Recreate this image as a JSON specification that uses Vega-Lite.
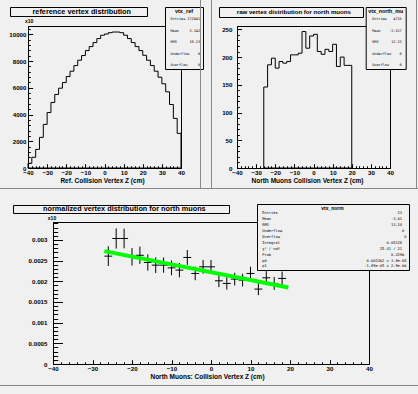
{
  "$schema": "https://vega.github.io/schema/vega-lite/v6.json",
  "autosize": {"type": "none"},
  "padding": {"left": 28, "top": 26, "right": 390, "bottom": 368},
  "background": "#f0f0f0",
  "align": "none",
  "spacing": -2,
  "resolve": {
    "scale": {"fill": "independent", "shape": "independent", "stroke": "independent"},
    "legend": {"fill": "independent", "shape": "independent", "stroke": "independent"}
  },
  "config": {
    "view": {"stroke": "black", "strokeWidth": 1},
    "font": "Liberation Sans",
    "axis": {
      "domainColor": "black", "domainWidth": 1, "tickColor": "black", "tickWidth": 1,
      "labelColor": "black", "titleColor": "black",
      "labelFont": "Liberation Sans", "titleFont": "Liberation Sans",
      "labelFontWeight": "bold", "titleFontWeight": "bold",
      "labelFontSize": 6.2, "titleFontSize": 6.5,
      "grid": false, "labelFlush": false, "labelOverlap": false
    },
    "legend": {
      "symbolOpacity": 0, "symbolSize": 0, "symbolStrokeWidth": 0, "labelOffset": 0,
      "strokeColor": "black", "fillColor": "#f0f0f0", "labelColor": "black", "titleColor": "black",
      "labelLimit": 400, "titleLimit": 400
    }
  },
  "vconcat": [
    {
      "spacing": 56,
      "bounds": "flush",
      "resolve": {
        "scale": {"fill": "independent", "shape": "independent", "stroke": "independent"},
        "legend": {"fill": "independent", "shape": "independent", "stroke": "independent"}
      },
      "hconcat": [
        {
          "width": 153, "height": 142,
          "resolve": {"axis": {"x": "independent", "y": "independent"}},
          "layer": [
            {
              "data": {"values": [
                {"lo":-40,"hi":-38,"n":350},{"lo":-38,"hi":-36,"n":800},{"lo":-36,"hi":-34,"n":1390},{"lo":-34,"hi":-32,"n":2290},
                {"lo":-32,"hi":-30,"n":3260},{"lo":-30,"hi":-28,"n":4150},{"lo":-28,"hi":-26,"n":4900},{"lo":-26,"hi":-24,"n":5500},
                {"lo":-24,"hi":-22,"n":5970},{"lo":-22,"hi":-20,"n":6390},{"lo":-20,"hi":-18,"n":6840},{"lo":-18,"hi":-16,"n":7240},
                {"lo":-16,"hi":-14,"n":7660},{"lo":-14,"hi":-12,"n":8060},{"lo":-12,"hi":-10,"n":8410},{"lo":-10,"hi":-8,"n":8780},
                {"lo":-8,"hi":-6,"n":9080},{"lo":-6,"hi":-4,"n":9380},{"lo":-4,"hi":-2,"n":9680},{"lo":-2,"hi":0,"n":9930},
                {"lo":0,"hi":2,"n":10020},{"lo":2,"hi":4,"n":10120},{"lo":4,"hi":6,"n":10170},{"lo":6,"hi":8,"n":10170},
                {"lo":8,"hi":10,"n":10120},{"lo":10,"hi":12,"n":9930},{"lo":12,"hi":14,"n":9680},{"lo":14,"hi":16,"n":9380},
                {"lo":16,"hi":18,"n":9080},{"lo":18,"hi":20,"n":8780},{"lo":20,"hi":22,"n":8430},{"lo":22,"hi":24,"n":8060},
                {"lo":24,"hi":26,"n":7660},{"lo":26,"hi":28,"n":7240},{"lo":28,"hi":30,"n":6790},{"lo":30,"hi":32,"n":6300},
                {"lo":32,"hi":34,"n":5700},{"lo":34,"hi":36,"n":4750},{"lo":36,"hi":38,"n":3710},{"lo":38,"hi":40,"n":2590}
              ]},
              "transform": [{"fold": ["lo", "hi"], "as": ["side", "edge"]}],
              "mark": {"type": "area", "fillOpacity": 0, "stroke": "black", "strokeWidth": 1},
              "encoding": {
                "x": {"field": "edge", "type": "quantitative",
                  "scale": {"domain": [-40, 40], "nice": false, "zero": false},
                  "axis": {"orient": "bottom", "values": [-40,-30,-20,-10,0,10,20,30,40], "format": "d",
                    "tickSize": -4.3, "labelPadding": 5.8,
                    "title": "Ref. Collision Vertex Z (cm)", "titleX": 74, "titleY": 9, "titleBaseline": "top"}},
                "y": {"field": "n", "type": "quantitative", "stack": null,
                  "scale": {"domain": [0, 10620], "nice": false},
                  "axis": {"orient": "left", "values": [0,2000,4000,6000,8000,10000], "format": "d",
                    "tickSize": -4.6, "labelPadding": 6.6,
                    "title": "x10", "titleAngle": 0, "titleX": 0.7, "titleY": -3, "titleAlign": "center",
                    "titleBaseline": "bottom", "titleFontSize": 5}}
              }
            },
            {
              "data": {"values": [{}]},
              "mark": {"type": "point", "opacity": 0},
              "encoding": {
                "x": {"datum": 0, "type": "quantitative",
                  "scale": {"domain": [-40, 40], "nice": false, "zero": false},
                  "axis": {"orient": "bottom", "values": [-38,-36,-34,-32,-28,-26,-24,-22,-18,-16,-14,-12,-8,-6,-4,-2,2,4,6,8,12,14,16,18,22,24,26,28,32,34,36,38],
                    "tickSize": -2.2, "labels": false, "domain": false, "title": null}},
                "y": {"datum": 0, "type": "quantitative",
                  "scale": {"domain": [0, 10620], "nice": false},
                  "axis": {"orient": "left", "values": [400,800,1200,1600,2400,2800,3200,3600,4400,4800,5200,5600,6400,6800,7200,7600,8400,8800,9200,9600,10400],
                    "tickSize": -2.3, "labels": false, "domain": false, "title": null}}
              }
            },
            {
              "data": {"values": [
                {"line": "Entries\u00a0272041"},
                {"line": "Mean\u00a0\u00a0\u00a0\u00a0\u00a03.342"},
                {"line": "RMS\u00a0\u00a0\u00a0\u00a0\u00a0\u00a018.23"},
                {"line": "Underflow\u00a0\u00a0\u00a0\u00a00"},
                {"line": "Overflow\u00a0\u00a0\u00a0\u00a0\u00a00"}
              ]},
              "mark": {"type": "circle", "opacity": 0},
              "encoding": {
                "fill": {"field": "line", "type": "nominal", "sort": null,
                  "legend": {"orient": "none", "legendX": 137, "legendY": -19, "title": "vtx_ref",
                    "titleFont": "Liberation Sans", "titleFontSize": 5.5, "titleFontWeight": "bold",
                    "titleAnchor": "middle", "titlePadding": 3,
                    "labelFont": "DejaVu Sans Mono", "labelFontSize": 3.5, "rowPadding": 6.5, "padding": 2}}
              }
            },
            {
              "data": {"values": [{"pad": "\u200b\u00a0\u00a0\u00a0\u00a0\u00a0\u00a0\u00a0reference vertex distribution\u00a0\u00a0\u00a0\u00a0\u00a0\u00a0\u00a0\u200b"}]},
              "mark": {"type": "point", "opacity": 0},
              "encoding": {
                "shape": {"field": "pad", "type": "nominal",
                  "legend": {"orient": "none", "legendX": -18, "legendY": -19, "title": null,
                    "labelFont": "Liberation Sans", "labelFontSize": 7.3, "labelFontWeight": "bold", "padding": 1}}
              }
            },
            {
              "data": {"values": [{"b": "0000"}]},
              "mark": {"type": "circle", "opacity": 0},
              "encoding": {
                "stroke": {"field": "b", "type": "nominal",
                  "legend": {"orient": "none", "legendX": -33, "legendY": -31, "title": null,
                    "labelColor": "transparent", "strokeColor": "#888888", "fillColor": "transparent",
                    "padding": 91.5, "labelFontSize": 10, "labelFont": "Liberation Sans"}}
              }
            }
          ]
        },
        {
          "width": 153, "height": 142,
          "resolve": {"axis": {"x": "independent", "y": "independent"}},
          "layer": [
            {
              "data": {"values": [
                {"lo":-26,"hi":-24,"n":146},{"lo":-24,"hi":-22,"n":186},{"lo":-22,"hi":-20,"n":198},{"lo":-20,"hi":-18,"n":180},
                {"lo":-18,"hi":-16,"n":192},{"lo":-16,"hi":-14,"n":189},{"lo":-14,"hi":-12,"n":192},{"lo":-12,"hi":-10,"n":204},
                {"lo":-10,"hi":-8,"n":204},{"lo":-8,"hi":-6,"n":207},{"lo":-6,"hi":-4,"n":246},{"lo":-4,"hi":-2,"n":216},
                {"lo":-2,"hi":0,"n":238},{"lo":0,"hi":2,"n":241},{"lo":2,"hi":4,"n":210},{"lo":4,"hi":6,"n":205},
                {"lo":6,"hi":8,"n":214},{"lo":8,"hi":10,"n":210},{"lo":10,"hi":12,"n":223},{"lo":12,"hi":14,"n":183},
                {"lo":14,"hi":16,"n":200},{"lo":16,"hi":18,"n":185},{"lo":18,"hi":20,"n":185}
              ]},
              "transform": [{"fold": ["lo", "hi"], "as": ["side", "edge"]}],
              "mark": {"type": "area", "fillOpacity": 0, "stroke": "black", "strokeWidth": 1},
              "encoding": {
                "x": {"field": "edge", "type": "quantitative",
                  "scale": {"domain": [-40, 40], "nice": false, "zero": false},
                  "axis": {"orient": "bottom", "values": [-40,-30,-20,-10,0,10,20,30,40], "format": "d",
                    "tickSize": -4.3, "labelPadding": 5.8,
                    "title": "North Muons Collision Vertex Z (cm)", "titleX": 70, "titleY": 9, "titleBaseline": "top"}},
                "y": {"field": "n", "type": "quantitative", "stack": null,
                  "scale": {"domain": [0, 256], "nice": false},
                  "axis": {"orient": "left", "values": [0,50,100,150,200,250], "format": "d",
                    "tickSize": -4.6, "labelPadding": 9.6, "title": null}}
              }
            },
            {
              "data": {"values": [{}]},
              "mark": {"type": "point", "opacity": 0},
              "encoding": {
                "x": {"datum": 0, "type": "quantitative",
                  "scale": {"domain": [-40, 40], "nice": false, "zero": false},
                  "axis": {"orient": "bottom", "values": [-38,-36,-34,-32,-28,-26,-24,-22,-18,-16,-14,-12,-8,-6,-4,-2,2,4,6,8,12,14,16,18,22,24,26,28,32,34,36,38],
                    "tickSize": -2.2, "labels": false, "domain": false, "title": null}},
                "y": {"datum": 0, "type": "quantitative",
                  "scale": {"domain": [0, 256], "nice": false},
                  "axis": {"orient": "left", "values": [10,20,30,40,60,70,80,90,110,120,130,140,160,170,180,190,210,220,230,240],
                    "tickSize": -2.3, "labels": false, "domain": false, "title": null}}
              }
            },
            {
              "data": {"values": [
                {"line": "Entries\u00a0\u00a0\u00a04715"},
                {"line": "Mean\u00a0\u00a0\u00a0\u00a0-2.617"},
                {"line": "RMS\u00a0\u00a0\u00a0\u00a0\u00a0\u00a013.23"},
                {"line": "Underflow\u00a0\u00a0\u00a0\u00a00"},
                {"line": "Overflow\u00a0\u00a0\u00a0\u00a0\u00a00"}
              ]},
              "mark": {"type": "circle", "opacity": 0},
              "encoding": {
                "fill": {"field": "line", "type": "nominal", "sort": null,
                  "legend": {"orient": "none", "legendX": 128.7, "legendY": -19, "title": "vtx_north_mu",
                    "titleFont": "Liberation Sans", "titleFontSize": 5.3, "titleFontWeight": "bold",
                    "titleAnchor": "middle", "titlePadding": 3,
                    "labelFont": "DejaVu Sans Mono", "labelFontSize": 3.5, "rowPadding": 6.5, "padding": 2}}
              }
            },
            {
              "data": {"values": [{"pad": "\u200b\u00a0\u00a0\u00a0\u00a0\u00a0\u00a0raw vertex distribution for north muons\u00a0\u00a0\u00a0\u00a0\u00a0\u00a0\u200b"}]},
              "mark": {"type": "point", "opacity": 0},
              "encoding": {
                "shape": {"field": "pad", "type": "nominal",
                  "legend": {"orient": "none", "legendX": -18, "legendY": -19, "title": null,
                    "labelFont": "Liberation Sans", "labelFontSize": 6.1, "labelFontWeight": "bold", "padding": 1.5}}
              }
            },
            {
              "data": {"values": [{"b": "0000"}]},
              "mark": {"type": "circle", "opacity": 0},
              "encoding": {
                "stroke": {"field": "b", "type": "nominal",
                  "legend": {"orient": "none", "legendX": -37, "legendY": -31, "title": null,
                    "labelColor": "transparent", "strokeColor": "#888888", "fillColor": "transparent",
                    "padding": 91.5, "labelFontSize": 10, "labelFont": "Liberation Sans"}}
              }
            }
          ]
        }
      ]
    },
    {
      "spacing": 0,
      "bounds": "flush",
      "resolve": {
        "scale": {"fill": "independent", "shape": "independent", "stroke": "independent"},
        "legend": {"fill": "independent", "shape": "independent", "stroke": "independent"}
      },
      "hconcat": [
        {
          "width": 25, "height": 142,
          "data": {"values": [{}]},
          "mark": {"type": "point", "opacity": 0},
          "view": {"stroke": null}
        },
        {
          "width": 316, "height": 142,
          "resolve": {"axis": {"x": "independent", "y": "independent"}},
          "data": {"values": [
            {"x":-26,"y":0.002609,"ey":0.000238,"ex":1},
            {"x":-24,"y":0.003036,"ey":0.000245,"ex":1},
            {"x":-22,"y":0.003036,"ey":0.000238,"ex":1},
            {"x":-20,"y":0.002592,"ey":0.000212,"ex":1},
            {"x":-18,"y":0.00263,"ey":0.000209,"ex":1},
            {"x":-16,"y":0.002456,"ey":0.000197,"ex":1},
            {"x":-14,"y":0.002391,"ey":0.00019,"ex":1},
            {"x":-12,"y":0.002391,"ey":0.000184,"ex":1},
            {"x":-10,"y":0.002326,"ey":0.000179,"ex":1},
            {"x":-8,"y":0.002271,"ey":0.000174,"ex":1},
            {"x":-6,"y":0.002577,"ey":0.00018,"ex":1},
            {"x":-4,"y":0.00219,"ey":0.000164,"ex":1},
            {"x":-2,"y":0.002351,"ey":0.000167,"ex":1},
            {"x":0,"y":0.002351,"ey":0.000166,"ex":1},
            {"x":2,"y":0.002013,"ey":0.000153,"ex":1},
            {"x":4,"y":0.001949,"ey":0.00015,"ex":1},
            {"x":6,"y":0.002053,"ey":0.000154,"ex":1},
            {"x":8,"y":0.002029,"ey":0.000154,"ex":1},
            {"x":10,"y":0.00219,"ey":0.000162,"ex":1},
            {"x":12,"y":0.001812,"ey":0.000147,"ex":1},
            {"x":14,"y":0.002085,"ey":0.000162,"ex":1},
            {"x":16,"y":0.001949,"ey":0.000157,"ex":1},
            {"x":18,"y":0.00207,"ey":0.000167,"ex":1}
          ]},
          "layer": [
            {
              "mark": {"type": "errorbar", "color": "black", "thickness": 1},
              "encoding": {
                "x": {"field": "x", "type": "quantitative",
                  "scale": {"domain": [-40, 40], "nice": false, "zero": false},
                  "axis": {"orient": "bottom", "values": [-40,-30,-20,-10,0,10,20,30,40], "format": "d",
                    "tickSize": -4.3, "labelPadding": 5.8,
                    "title": "North Muons: Collision Vertex Z (cm)", "titleX": 154, "titleY": 9.5, "titleBaseline": "top"}},
                "y": {"field": "y", "type": "quantitative",
                  "scale": {"domain": [0, 0.003435], "nice": false, "zero": false},
                  "axis": {"orient": "left", "values": [0,0.0005,0.001,0.0015,0.002,0.0025,0.003], "format": "~g",
                    "tickSize": -9.5, "labelPadding": 15.5,
                    "title": "x10", "titleAngle": 0, "titleX": -1.5, "titleY": -2, "titleAlign": "center",
                    "titleBaseline": "bottom", "titleFontSize": 5}},
                "yError": {"field": "ey"}
              }
            },
            {
              "mark": {"type": "errorbar", "color": "black", "thickness": 1},
              "encoding": {
                "x": {"field": "x", "type": "quantitative",
                  "scale": {"domain": [-40, 40], "nice": false, "zero": false}, "axis": null},
                "y": {"field": "y", "type": "quantitative",
                  "scale": {"domain": [0, 0.003435], "nice": false, "zero": false}, "axis": null},
                "xError": {"field": "ex"}
              }
            },
            {
              "data": {"values": [{"x": -27, "y": 0.00273}, {"x": 19.6, "y": 0.00185}]},
              "mark": {"type": "line", "color": "#00ff00", "strokeWidth": 4},
              "encoding": {
                "x": {"field": "x", "type": "quantitative",
                  "scale": {"domain": [-40, 40], "nice": false, "zero": false}, "axis": null},
                "y": {"field": "y", "type": "quantitative",
                  "scale": {"domain": [0, 0.003435], "nice": false, "zero": false}, "axis": null}
              }
            },
            {
              "data": {"values": [{}]},
              "mark": {"type": "point", "opacity": 0},
              "encoding": {
                "x": {"datum": 0, "type": "quantitative",
                  "scale": {"domain": [-40, 40], "nice": false, "zero": false},
                  "axis": {"orient": "bottom", "values": [-38,-36,-34,-32,-28,-26,-24,-22,-18,-16,-14,-12,-8,-6,-4,-2,2,4,6,8,12,14,16,18,22,24,26,28,32,34,36,38],
                    "tickSize": -2.2, "labels": false, "domain": false, "title": null}},
                "y": {"datum": 0, "type": "quantitative",
                  "scale": {"domain": [0, 0.003435], "nice": false, "zero": false},
                  "axis": {"orient": "left", "values": [0.0001,0.0002,0.0003,0.0004,0.0006,0.0007,0.0008,0.0009,0.0011,0.0012,0.0013,0.0014,0.0016,0.0017,0.0018,0.0019,0.0021,0.0022,0.0023,0.0024,0.0026,0.0027,0.0028,0.0029,0.0031,0.0032,0.0033,0.0034],
                    "tickSize": -4.7, "labels": false, "domain": false, "title": null}}
              }
            },
            {
              "data": {"values": [
                {"line": "Entries\u00a0\u00a0\u00a0\u00a0\u00a0\u00a0\u00a0\u00a0\u00a0\u00a0\u00a0\u00a0\u00a0\u00a0\u00a0\u00a0\u00a0\u00a0\u00a0\u00a0\u00a0\u00a0\u00a0\u00a0\u00a0\u00a0\u00a0\u00a0\u00a0\u00a0\u00a0\u00a0\u00a0\u00a0\u00a0\u00a0\u00a0\u00a0\u00a0\u00a0\u00a0\u00a0\u00a0\u00a0\u00a0\u00a0\u00a0\u00a0\u00a0\u00a0\u00a0\u00a0\u00a0\u00a023"},
                {"line": "Mean\u00a0\u00a0\u00a0\u00a0\u00a0\u00a0\u00a0\u00a0\u00a0\u00a0\u00a0\u00a0\u00a0\u00a0\u00a0\u00a0\u00a0\u00a0\u00a0\u00a0\u00a0\u00a0\u00a0\u00a0\u00a0\u00a0\u00a0\u00a0\u00a0\u00a0\u00a0\u00a0\u00a0\u00a0\u00a0\u00a0\u00a0\u00a0\u00a0\u00a0\u00a0\u00a0\u00a0\u00a0\u00a0\u00a0\u00a0\u00a0\u00a0\u00a0\u00a0\u00a0\u00a0\u00a0-3.01"},
                {"line": "RMS\u00a0\u00a0\u00a0\u00a0\u00a0\u00a0\u00a0\u00a0\u00a0\u00a0\u00a0\u00a0\u00a0\u00a0\u00a0\u00a0\u00a0\u00a0\u00a0\u00a0\u00a0\u00a0\u00a0\u00a0\u00a0\u00a0\u00a0\u00a0\u00a0\u00a0\u00a0\u00a0\u00a0\u00a0\u00a0\u00a0\u00a0\u00a0\u00a0\u00a0\u00a0\u00a0\u00a0\u00a0\u00a0\u00a0\u00a0\u00a0\u00a0\u00a0\u00a0\u00a0\u00a0\u00a0\u00a013.24"},
                {"line": "Underflow\u00a0\u00a0\u00a0\u00a0\u00a0\u00a0\u00a0\u00a0\u00a0\u00a0\u00a0\u00a0\u00a0\u00a0\u00a0\u00a0\u00a0\u00a0\u00a0\u00a0\u00a0\u00a0\u00a0\u00a0\u00a0\u00a0\u00a0\u00a0\u00a0\u00a0\u00a0\u00a0\u00a0\u00a0\u00a0\u00a0\u00a0\u00a0\u00a0\u00a0\u00a0\u00a0\u00a0\u00a0\u00a0\u00a0\u00a0\u00a0\u00a0\u00a0\u00a0\u00a0\u00a0\u00a00"},
                {"line": "Overflow\u00a0\u00a0\u00a0\u00a0\u00a0\u00a0\u00a0\u00a0\u00a0\u00a0\u00a0\u00a0\u00a0\u00a0\u00a0\u00a0\u00a0\u00a0\u00a0\u00a0\u00a0\u00a0\u00a0\u00a0\u00a0\u00a0\u00a0\u00a0\u00a0\u00a0\u00a0\u00a0\u00a0\u00a0\u00a0\u00a0\u00a0\u00a0\u00a0\u00a0\u00a0\u00a0\u00a0\u00a0\u00a0\u00a0\u00a0\u00a0\u00a0\u00a0\u00a0\u00a0\u00a0\u00a0\u00a0\u00a00"},
                {"line": "Integral\u00a0\u00a0\u00a0\u00a0\u00a0\u00a0\u00a0\u00a0\u00a0\u00a0\u00a0\u00a0\u00a0\u00a0\u00a0\u00a0\u00a0\u00a0\u00a0\u00a0\u00a0\u00a0\u00a0\u00a0\u00a0\u00a0\u00a0\u00a0\u00a0\u00a0\u00a0\u00a0\u00a0\u00a0\u00a0\u00a0\u00a0\u00a0\u00a0\u00a0\u00a0\u00a0\u00a0\u00a0\u00a0\u00a0\u00a0\u00a00.05128"},
                {"line": "χ² / ndf\u00a0\u00a0\u00a0\u00a0\u00a0\u00a0\u00a0\u00a0\u00a0\u00a0\u00a0\u00a0\u00a0\u00a0\u00a0\u00a0\u00a0\u00a0\u00a0\u00a0\u00a0\u00a0\u00a0\u00a0\u00a0\u00a0\u00a0\u00a0\u00a0\u00a0\u00a0\u00a0\u00a0\u00a0\u00a0\u00a0\u00a0\u00a0\u00a0\u00a0\u00a0\u00a0\u00a0\u00a0\u00a025.41 / 21"},
                {"line": "Prob\u00a0\u00a0\u00a0\u00a0\u00a0\u00a0\u00a0\u00a0\u00a0\u00a0\u00a0\u00a0\u00a0\u00a0\u00a0\u00a0\u00a0\u00a0\u00a0\u00a0\u00a0\u00a0\u00a0\u00a0\u00a0\u00a0\u00a0\u00a0\u00a0\u00a0\u00a0\u00a0\u00a0\u00a0\u00a0\u00a0\u00a0\u00a0\u00a0\u00a0\u00a0\u00a0\u00a0\u00a0\u00a0\u00a0\u00a0\u00a0\u00a0\u00a0\u00a0\u00a0\u00a0\u00a00.2296"},
                {"line": "p0\u00a0\u00a0\u00a0\u00a0\u00a0\u00a0\u00a0\u00a0\u00a0\u00a0\u00a0\u00a0\u00a0\u00a0\u00a0\u00a0\u00a0\u00a0\u00a0\u00a0\u00a0\u00a0\u00a0\u00a0\u00a0\u00a0\u00a0\u00a0\u00a0\u00a0\u00a0\u00a0\u00a0\u00a0\u00a0\u00a0\u00a0\u00a0\u00a0\u00a0\u00a0\u00a0\u00a0\u00a0\u00a00.002262 ± 3.8e-05"},
                {"line": "p1\u00a0\u00a0\u00a0\u00a0\u00a0\u00a0\u00a0\u00a0\u00a0\u00a0\u00a0\u00a0\u00a0\u00a0\u00a0\u00a0\u00a0\u00a0\u00a0\u00a0\u00a0\u00a0\u00a0\u00a0\u00a0\u00a0\u00a0\u00a0\u00a0\u00a0\u00a0\u00a0\u00a0\u00a0\u00a0\u00a0\u00a0\u00a0\u00a0\u00a0\u00a0\u00a0\u00a0\u00a0-1.89e-05 ± 2.9e-06"}
              ]},
              "mark": {"type": "circle", "opacity": 0},
              "encoding": {
                "fill": {"field": "line", "type": "nominal", "sort": null,
                  "legend": {"orient": "none", "legendX": 204, "legendY": -18, "title": "vtx_norm",
                    "titleFont": "Liberation Sans", "titleFontSize": 5, "titleFontWeight": "bold",
                    "titleAnchor": "middle", "titlePadding": 1,
                    "labelFont": "DejaVu Sans Mono", "labelFontSize": 3.7, "rowPadding": 0.9, "padding": 1.5}}
              }
            },
            {
              "data": {"values": [{"pad": "\u200b\u00a0\u00a0\u00a0\u00a0\u00a0\u00a0\u00a0\u00a0\u00a0\u00a0\u00a0normalized vertex distribution for north muons\u00a0\u00a0\u00a0\u00a0\u00a0\u00a0\u00a0\u00a0\u00a0\u00a0\u00a0\u200b"}]},
              "mark": {"type": "point", "opacity": 0},
              "encoding": {
                "shape": {"field": "pad", "type": "nominal",
                  "legend": {"orient": "none", "legendX": -40, "legendY": -17, "title": null,
                    "labelFont": "Liberation Sans", "labelFontSize": 7.3, "labelFontWeight": "bold", "padding": 0.5}}
              }
            },
            {
              "data": {"values": [{"b": "0000000000000000000000000000000000000000."}]},
              "mark": {"type": "circle", "opacity": 0},
              "encoding": {
                "stroke": {"field": "b", "type": "nominal",
                  "legend": {"orient": "none", "legendX": -58, "legendY": -34, "title": null,
                    "labelColor": "transparent", "strokeColor": "#888888", "fillColor": "transparent",
                    "padding": 93.5, "labelFontSize": 10, "labelFont": "Liberation Sans"}}
              }
            }
          ]
        }
      ]
    }
  ]
}
